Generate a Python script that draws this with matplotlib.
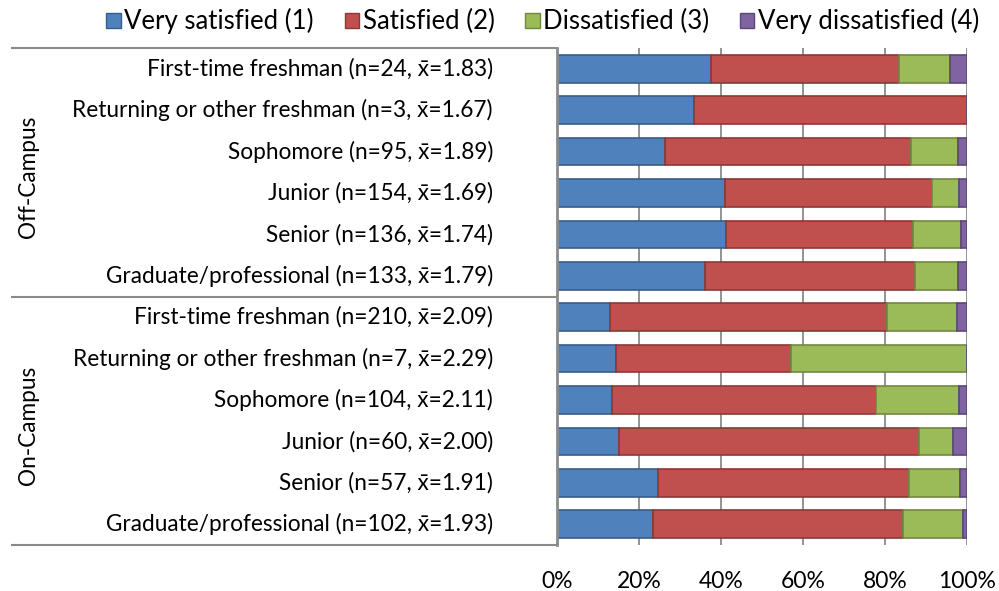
import numpy as np
import matplotlib
matplotlib.use('Agg')
import matplotlib.pyplot as plt
import matplotlib.transforms as mtransforms
from matplotlib.patches import Patch

plt.rcParams['font.family'] = ['Lato', 'DejaVu Sans']

# Satisfaction counts per class standing, split by housing
groups = ['Off-Campus', 'On-Campus']
classes = ['First-time freshman', 'Returning or other freshman', 'Sophomore',
           'Junior', 'Senior', 'Graduate/professional']
means = [1.83, 1.67, 1.89, 1.69, 1.74, 1.79,
         2.09, 2.29, 2.11, 2.00, 1.91, 1.93]

very_satisfied = [9, 1, 25, 63, 56, 48, 27, 1, 14, 9, 14, 24]
satisfied = [11, 2, 57, 78, 62, 68, 142, 3, 67, 44, 35, 62]
dissatisfied = [3, 0, 11, 10, 16, 14, 36, 3, 21, 5, 7, 15]
very_dissatisfied = [1, 0, 2, 3, 2, 3, 5, 0, 2, 2, 1, 1]

series = ['Very satisfied (1)', 'Satisfied (2)', 'Dissatisfied (3)', 'Very dissatisfied (4)']
colors = ['#4F81BD', '#C0504D', '#9BBB59', '#8064A2']
edges = ['#385D8A', '#8C3836', '#71893F', '#5C4776']

counts = np.array([very_satisfied, satisfied, dissatisfied, very_dissatisfied], dtype=float)
totals = counts.sum(axis=0)
shares = counts / totals * 100

labels = []
for i in range(len(means)):
    labels.append(f'{classes[i % 6]} (n={int(totals[i])}, x\u0304={means[i]:.2f})')

fig = plt.figure(figsize=(9.99, 5.91), dpi=100)
ax = fig.add_axes([557 / 999, 46 / 591, 410 / 999, 497 / 591])

y = np.arange(len(labels))
left = np.zeros(len(labels))
for k in range(4):
    ax.barh(y, shares[k], left=left, height=0.67, color=colors[k],
            edgecolor=edges[k], linewidth=1.2, zorder=3)
    left += shares[k]

ax.set_xlim(0, 100)
ax.set_ylim(11.5, -0.5)
ax.set_xticks(np.arange(0, 101, 20))
ax.set_xticklabels([f'{v}%' for v in range(0, 101, 20)], fontsize=16.5)
ax.tick_params(axis='x', length=0, pad=19)
ax.set_yticks([])
ax.grid(axis='x', color='#8a8a8a', linewidth=1.3, zorder=0)
for s in ['top', 'right', 'bottom']:
    ax.spines[s].set_visible(False)
ax.spines['left'].set_color('#8a8a8a')
ax.spines['left'].set_linewidth(2)
ax.spines['left'].set_zorder(4)

# category table on the left
trans = mtransforms.blended_transform_factory(ax.transAxes, ax.transData)
for i, lab in enumerate(labels):
    ax.text(-64 / 410, i, lab, transform=trans, ha='right', va='center', fontsize=16.3)
for yy in [-0.5, 5.5, 11.5]:
    ax.plot([-546 / 410, 0], [yy, yy], transform=trans, color='#8a8a8a',
            linewidth=1.5, clip_on=False, solid_capstyle='butt')
for g, name in enumerate(groups):
    ax.text(-529 / 410, g * 6 + 2.6, name, transform=trans, rotation=90,
            ha='center', va='center', fontsize=16.3)

handles = [Patch(facecolor=c, edgecolor=e, linewidth=1) for c, e in zip(colors, edges)]
fig.legend(handles, series, loc='upper center', bbox_to_anchor=(543 / 999, 1.025),
           ncol=4, frameon=False, fontsize=18.5, handlelength=0.55, handleheight=0.55,
           handletextpad=0.15, columnspacing=1.2)

fig.savefig('out.png', dpi=100)
